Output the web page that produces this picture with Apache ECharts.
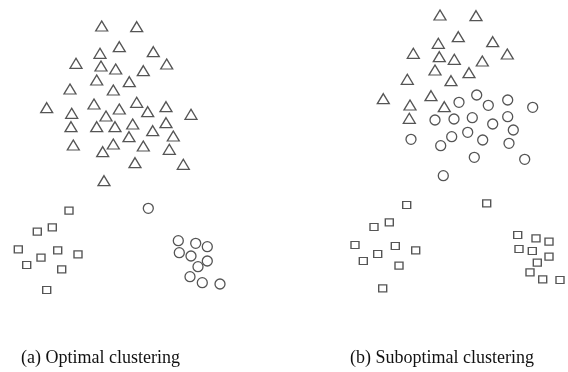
<!DOCTYPE html>
<html>
<head>
<meta charset="utf-8">
<script src="https://cdn.jsdelivr.net/npm/echarts@6/dist/echarts.min.js"></script>
<style>html,body{margin:0;padding:0;background:#fff;}#c{width:568px;height:372px;}</style>
</head>
<body>
<div id="c"></div>
<script>
// Panel (a): optimal clustering
const aTriangles = [[101.7,294],[136.7,293.3],[119.3,273.3],[100,266.7],[153.3,268.3],[76,256.7],[101,254],[115.7,251],[166.7,256],[143.3,249.3],[96.7,240],[129.3,238.3],[70,231],[113.3,230],[46.7,212.3],[94,216],[136.7,217.7],[71.7,206.7],[119.3,211],[106,204],[147.7,208.3],[166,213.3],[191,205.7],[71,193.3],[96.7,193.3],[115,193.3],[132.7,196],[166,197.3],[152.7,189.3],[129,183.3],[173.3,184],[73.3,175],[113.3,176],[143.3,174],[102.7,168.3],[169.3,170.7],[135,157.3],[183.3,155.7],[104,139.3]];
const aSquares = [[69,109.3],[52.3,92.7],[37.3,88.3],[18.3,70.7],[57.7,69.7],[78,65.7],[41,62.3],[26.7,55],[61.7,50.7],[46.7,30]];
const aCircles = [[148.3,111.7],[178.3,79.3],[195.7,76.7],[207.3,73.3],[179.3,67.3],[191,64],[207.3,59],[198,53.3],[190,43.3],[202.3,37.3],[220,36]];
// Panel (b): suboptimal clustering
const bTriangles = [[156,305],[192,304.3],[174.3,283.3],[154.3,276.7],[208.7,278.3],[129.3,266.7],[155.3,263.3],[170.3,260.7],[223.3,266],[198.3,259],[151,250],[185,247.3],[123.3,240.7],[167,239.3],[99.3,221.3],[147,224.3],[126,215],[160.3,213.3],[125.3,201.7]];
const bCircles = [[175,217.7],[192.7,225],[204.3,214.7],[223.7,220],[248.7,212.7],[151,200],[170,201],[188.3,202.3],[223.7,203.3],[208.7,196],[229.3,190],[127,180.7],[167.7,183.3],[183.7,187.7],[198.7,180],[225,176.7],[156.7,174.3],[190.3,162.7],[240.7,160.7],[159.3,144.3]];
const bSquares = [[122.7,115],[105.3,97.7],[90,93],[71,75],[111.3,74],[131.7,69.7],[93.7,66],[79.3,59],[115,54.3],[98.7,31.7],[202.7,116.7],[233.7,85],[252,81.7],[265,78.3],[235,71],[248.3,69],[265,63.3],[253.3,57.3],[246,47.7],[258.7,40.7],[276,40]];
const captions = ['(a) Optimal clustering', '(b) Suboptimal clustering'];

const stroke = '#555';
const shapes = {
  tri: {symbol: 'triangle', symbolSize: [12, 10]},
  cir: {symbol: 'circle', symbolSize: 10},
  sq: {symbol: 'rect', symbolSize: [8, 7]}
};
function series(data, shape, idx) {
  return Object.assign({
    type: 'scatter', xAxisIndex: idx, yAxisIndex: idx, data: data, silent: true,
    itemStyle: {color: '#fff', borderColor: stroke, borderWidth: 1.3, opacity: 1},
    clip: false
  }, shapes[shape]);
}
const chart = echarts.init(document.getElementById('c'), null, {renderer: 'canvas'});
const ax = {show: false};
chart.setOption({
  animation: false,
  backgroundColor: '#fff',
  grid: [
    {left: 0, top: 0, width: 284, height: 320},
    {left: 284, top: 0, width: 284, height: 320}
  ],
  xAxis: [
    Object.assign({type: 'value', min: 0, max: 284, gridIndex: 0}, ax),
    Object.assign({type: 'value', min: 0, max: 284, gridIndex: 1}, ax)
  ],
  yAxis: [
    Object.assign({type: 'value', min: 0, max: 320, gridIndex: 0}, ax),
    Object.assign({type: 'value', min: 0, max: 320, gridIndex: 1}, ax)
  ],
  title: [
    {text: captions[0], left: 21, top: 349, padding: 0, textStyle: {fontFamily: 'Liberation Serif', fontSize: 18, fontWeight: 'normal', color: '#111'}},
    {text: captions[1], left: 350, top: 349, padding: 0, textStyle: {fontFamily: 'Liberation Serif', fontSize: 18, fontWeight: 'normal', color: '#111'}}
  ],
  series: [
    series(aTriangles, 'tri', 0), series(aSquares, 'sq', 0), series(aCircles, 'cir', 0),
    series(bTriangles, 'tri', 1), series(bCircles, 'cir', 1), series(bSquares, 'sq', 1)
  ]
});
</script>
</body>
</html>
